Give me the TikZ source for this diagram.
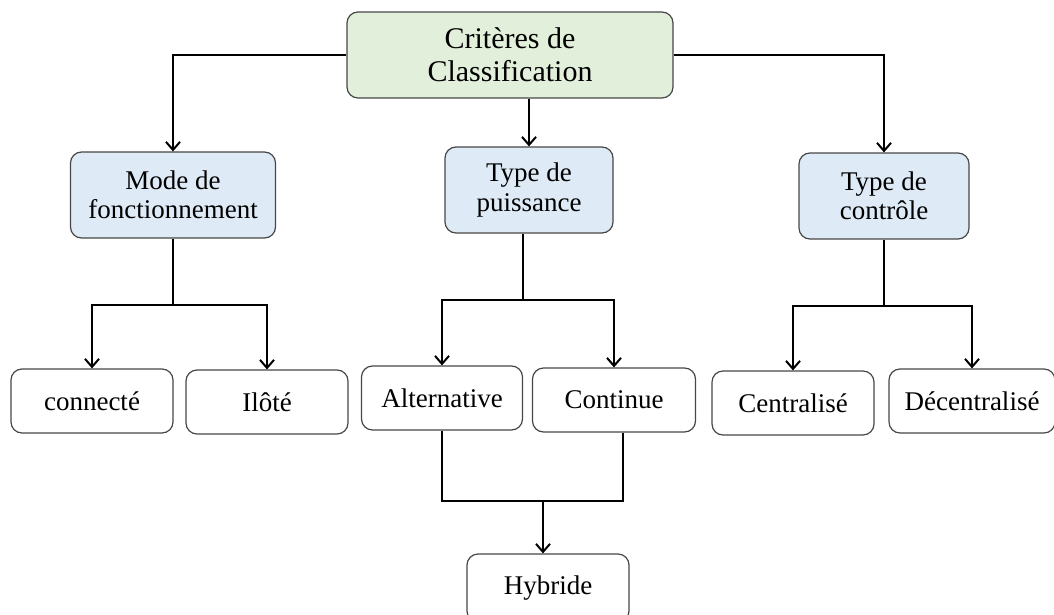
\documentclass[tikz,border=0pt]{standalone}
\usepackage{fontspec}
\setmainfont{Liberation Serif}
\usetikzlibrary{arrows.meta}

\definecolor{critgreen}{RGB}{226,239,218}
\definecolor{catblue}{RGB}{222,235,247}

\begin{document}
\begin{tikzpicture}[x=1pt, y=-1pt, >={Straight Barb[length=8pt, width=14pt]},
  every node/.style={draw=black!72, line width=1.2pt, rounded corners=11pt, align=center, inner sep=0pt, font=\fontsize{27}{29.5}\selectfont},
  crit/.style={fill=critgreen, minimum width=326pt, minimum height=86pt, font=\fontsize{30}{33}\selectfont},
  cat/.style={fill=catblue, minimum height=86pt},
  leaf/.style={fill=white, minimum height=64pt},
  link/.style={line width=2pt}]
  \useasboundingbox (0,0) rectangle (1054,615);
  \node (crit) [crit] at (510, 55) {Critères de\\Classification};
  \node (mode) [cat, minimum width=205pt] at (173, 195) {Mode de\\fonctionnement};
  \node (puis) [cat, minimum width=168pt] at (529, 190) {Type de\\puissance};
  \node (ctrl) [cat, minimum width=170pt] at (884, 196) {Type de\\contrôle};
  \node (conn) [leaf, minimum width=162pt] at (92, 401) {connecté};
  \node (ilot) [leaf, minimum width=162pt] at (267, 402) {Ilôté};
  \node (alt) [leaf, minimum width=161pt] at (442, 398) {Alternative};
  \node (cont) [leaf, minimum width=163pt] at (614, 400) {Continue};
  \node (hyb) [leaf, minimum width=162pt, minimum height=68pt] at (548, 588) {Hybride};
  \node (cent) [leaf, minimum width=162pt] at (793, 403) {Centralisé};
  \node (dec) [leaf, minimum width=166pt] at (972, 401) {Décentralisé};
  \coordinate (mj) at (173, 305);
  \coordinate (pj) at (523, 300);
  \coordinate (cj) at (884, 306);
  \coordinate (hj) at (543, 501);
  \draw[link, ->] (crit.west) -| (mode);
  \draw[link, ->] (crit.south -| puis) -- (puis);
  \draw[link, ->] (crit.east) -| (ctrl);
  \draw[link] (mode) -- (mj);
  \draw[link, ->] (mj) -| (conn);
  \draw[link, ->] (mj) -| (ilot);
  \draw[link] (pj |- puis.south) -- (pj);
  \draw[link, ->] (pj) -| (alt);
  \draw[link, ->] (pj) -| (cont);
  \draw[link] (ctrl) -- (cj);
  \draw[link, ->] (cj) -| (cent);
  \draw[link, ->] (cj) -| (dec);
  \draw[link] (alt) |- (hj);
  \draw[link] ([xshift=9pt]cont.south) |- (hj);
  \draw[link, ->] (hj) -- (hj |- hyb.north);
\end{tikzpicture}
\end{document}
